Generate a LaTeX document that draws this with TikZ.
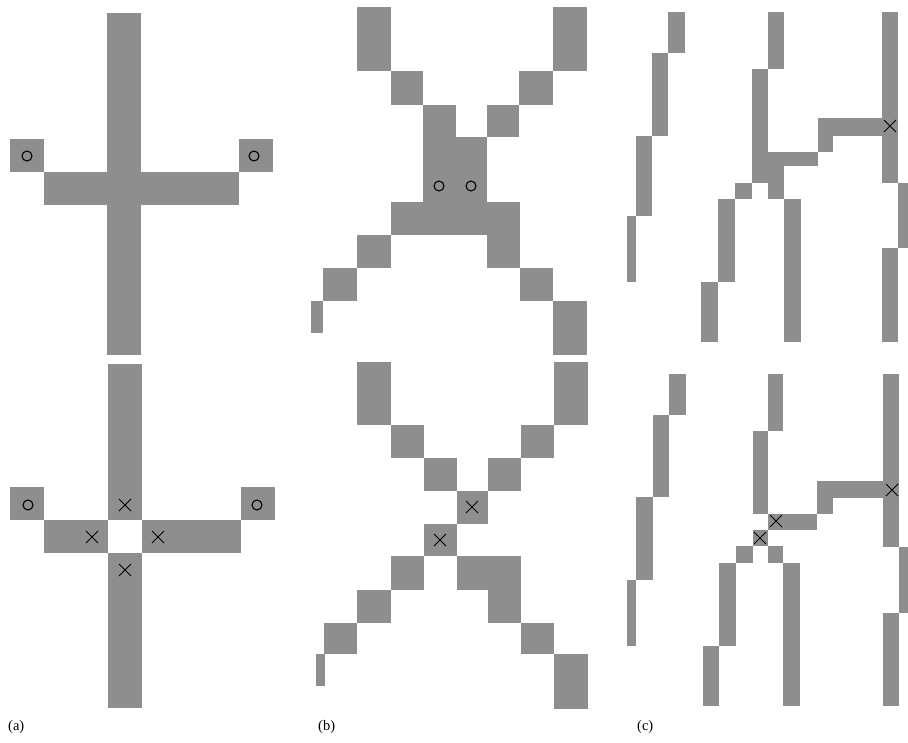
\documentclass[tikz,border=0pt]{standalone}
\usepackage{fontspec}
\setmainfont{Liberation Serif}
\definecolor{pix}{RGB}{142,142,142}
\tikzset{
  cell/.style={fill=pix},
  ring/.style={draw=black, line width=1.1pt},
  crossmark/.style={draw=black, line width=1pt},
  lbl/.style={anchor=west, inner sep=0pt, font=\fontsize{14.5}{16}\selectfont}
}
\newcommand{\rc}[4]{\fill[cell] (#1,#2) rectangle (#3,#4);}
\newcommand{\ringat}[2]{\draw[ring] (#1,#2) circle (5);}
\newcommand{\xat}[2]{\draw[crossmark] (#1-6,#2-6) -- (#1+6,#2+6) (#1-6,#2+6) -- (#1+6,#2-6);}
\begin{document}
\begin{tikzpicture}[x=1pt,y=-1pt]
\useasboundingbox (0,0) rectangle (908,742);
% ---------- (a) top
\rc{107}{13}{141}{355}
\rc{10}{139}{44}{172}
\rc{44}{172}{239}{205}
\rc{239}{139}{273}{172}
\ringat{27}{156}
\ringat{254}{156}
% ---------- (a) bottom
\rc{108}{364}{142}{520}
\rc{10}{487}{44}{520}
\rc{44}{520}{108}{553}
\rc{142}{520}{241}{553}
\rc{241}{487}{275}{520}
\rc{108}{553}{142}{708}
\ringat{28}{505}
\ringat{257}{505}
\xat{125}{505}
\xat{92}{537}
\xat{158}{537}
\xat{125}{570}
% ---------- (b) top
\rc{357}{7}{391}{71}
\rc{391}{71}{423}{105}
\rc{423}{105}{456}{202}
\rc{456}{137}{487}{202}
\rc{553}{7}{587}{71}
\rc{519}{71}{553}{105}
\rc{487}{105}{519}{137}
\rc{391}{202}{520}{235}
\rc{487}{235}{520}{268}
\rc{357}{235}{391}{268}
\rc{323}{268}{357}{301}
\rc{311}{301}{323}{333}
\rc{520}{268}{553}{301}
\rc{553}{301}{587}{355}
\ringat{439}{186}
\ringat{471}{186}
% ---------- (b) bottom
\rc{357}{362}{391}{425}
\rc{391}{425}{424}{458}
\rc{424}{458}{457}{491}
\rc{457}{491}{488}{524}
\rc{424}{524}{457}{556}
\rc{391}{556}{424}{590}
\rc{357}{590}{391}{623}
\rc{324}{623}{357}{654}
\rc{316}{654}{325}{686}
\rc{457}{556}{521}{590}
\rc{488}{590}{521}{623}
\rc{521}{623}{554}{654}
\rc{554}{654}{588}{709}
\rc{554}{362}{588}{425}
\rc{521}{425}{554}{458}
\rc{488}{458}{521}{491}
\xat{472}{507}
\xat{440}{540}
% ---------- (c) top
\rc{668}{12}{685}{53}
\rc{652}{53}{668}{136}
\rc{636}{136}{652}{216}
\rc{627}{216}{636}{282}
\rc{768}{12}{784}{69}
\rc{752}{69}{768}{183}
\rc{768}{152}{818}{166}
\rc{768}{166}{784}{199}
\rc{735}{183}{752}{199}
\rc{718}{199}{735}{282}
\rc{701}{282}{718}{342}
\rc{784}{199}{801}{342}
\rc{818}{118}{833}{152}
\rc{833}{118}{882}{136}
\rc{882}{12}{898}{183}
\rc{898}{183}{908}{248}
\rc{882}{248}{898}{342}
\xat{890}{126}
% ---------- (c) bottom
\rc{669}{374}{686}{415}
\rc{653}{415}{669}{497}
\rc{636}{497}{653}{580}
\rc{627}{580}{636}{646}
\rc{768}{374}{783}{431}
\rc{753}{431}{768}{514}
\rc{768}{514}{817}{530}
\rc{753}{530}{768}{546}
\rc{736}{546}{753}{563}
\rc{768}{546}{783}{563}
\rc{719}{563}{736}{646}
\rc{703}{646}{719}{706}
\rc{783}{563}{800}{706}
\rc{817}{481}{833}{514}
\rc{833}{481}{883}{498}
\rc{883}{374}{899}{547}
\rc{899}{547}{908}{613}
\rc{883}{613}{899}{706}
\xat{776}{521}
\xat{760}{538}
\xat{892}{490}
% ---------- labels
\node[lbl] (la) at (8,727) {(a)};
\node[lbl] (lb) at (318,727) {(b)};
\node[lbl] (lc) at (637,727) {(c)};
\end{tikzpicture}
\end{document}
